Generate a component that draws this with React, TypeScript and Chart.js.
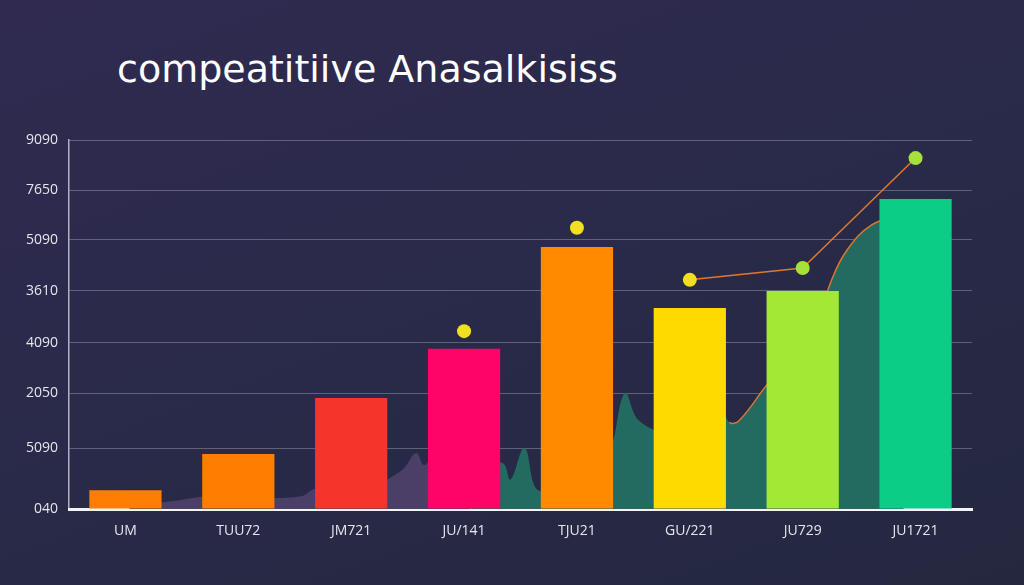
import React, { useEffect, useRef } from "react";
import { Chart, registerables } from "chart.js";

Chart.register(...registerables);

const titleText = "compeatitiive Anasalkisiss";
const categories = ["UM", "TUU72", "JM721", "JU/141", "TJU21", "GU/221", "JU729", "JU1721"];
const barValues = [5.1, 14.9, 30.1, 43.4, 71.0, 54.5, 59.1, 84.0];
const barColors = ["#ff7d00", "#ff7d00", "#f5352b", "#ff0468", "#ff8a00", "#ffda00", "#a2e834", "#0bcd86"];
const dotValues = [null, null, null, 48.2, 76.2, 62.1, 65.3, 95.1];
const dotColors = ["#f0e020", "#f0e020", "#f0e020", "#f0e020", "#f0e020", "#f0e020", "#a8e03a", "#a8e03a"];
const yTickValues = [0, 16.5, 31.4, 45.0, 59.1, 72.9, 86.4, 100];
const yTickLabels = ["040", "5090", "2050", "4090", "3610", "5090", "7650", "9090"];
const purpleAreaX = [0.1, 0.5, 0.82, 0.95, 1.1, 1.18, 1.5, 1.82, 1.95, 2.05, 2.18, 2.5, 2.82, 2.96, 3.04, 3.15, 3.3, 3.5];
const purpleAreaY = [1, 2, 3.3, 3.6, 3.1, 3.3, 3, 3.5, 5.4, 4.2, 4.1, 6, 10.6, 15.2, 11.9, 15.4, 14, 12];
const tealAreaX = [3.5, 3.82, 3.9, 4.04, 4.18, 4.5, 4.82, 4.9, 5.04, 5.18, 5.5, 5.82, 5.88, 5.98, 6.08, 6.18, 6.5, 6.82, 6.95, 7.1, 7.25, 7.5, 7.82];
const tealAreaY = [12, 12.5, 8, 16.5, 5, 10, 21, 17, 31.4, 24, 20, 19, 15.4, 29, 23.5, 24, 35, 43, 50, 62, 70, 77, 80];
const edgeStartIndex = 14;

export default function App() {
  const ref = useRef<HTMLCanvasElement | null>(null);
  useEffect(() => {
    if (!ref.current) return;
    const tickColor = "#e6e6ee";
    const tealPoints = tealAreaX.map((x, i) => ({ x, y: tealAreaY[i] }));
    const chart = new Chart(ref.current, {
      type: "bar",
      data: {
        labels: categories,
        datasets: [
          {
            type: "line",
            label: "line",
            data: dotValues,
            order: 1,
            borderWidth: 1.5,
            pointRadius: 7,
            pointBorderWidth: 0,
            pointBackgroundColor: dotColors,
            spanGaps: false,
            segment: {
              borderColor: (ctx: any) => (ctx.p0DataIndex >= 5 ? "#e0782c" : "rgba(0,0,0,0)"),
            },
          } as any,
          {
            type: "bar",
            label: "bars",
            data: barValues,
            order: 2,
            grouped: false,
            backgroundColor: barColors,
            categoryPercentage: 1,
            barPercentage: 0.64,
          } as any,
          {
            type: "line",
            label: "edge",
            xAxisID: "x2",
            data: tealPoints,
            order: 3,
            fill: false,
            borderColor: "#d8782e",
            borderWidth: 1.5,
            pointRadius: 0,
            tension: 0.4,
            segment: {
              borderColor: (ctx: any) => (ctx.p0DataIndex >= edgeStartIndex ? "#d8782e" : "rgba(0,0,0,0)"),
            },
          } as any,
          {
            type: "line",
            label: "teal",
            xAxisID: "x2",
            data: tealPoints,
            order: 4,
            fill: "origin",
            backgroundColor: "#236b60",
            borderWidth: 0,
            borderColor: "rgba(0,0,0,0)",
            pointRadius: 0,
            tension: 0.4,
          } as any,
          {
            type: "line",
            label: "purple",
            xAxisID: "x2",
            data: purpleAreaX.map((x, i) => ({ x, y: purpleAreaY[i] })),
            order: 5,
            fill: "origin",
            backgroundColor: "#4b3f68",
            borderWidth: 0,
            borderColor: "rgba(0,0,0,0)",
            pointRadius: 0,
            tension: 0.4,
          } as any,
        ],
      },
      options: {
        animation: false,
        responsive: false,
        maintainAspectRatio: false,
        layout: { padding: { top: 140, right: 52, bottom: 0, left: 0 } },
        plugins: { legend: { display: false }, title: { display: false }, tooltip: { enabled: false } },
        scales: {
          x: {
            type: "category",
            offset: true,
            grid: { display: false, drawTicks: false },
            border: { display: true, color: "#f4f4f8", width: 3 },
            ticks: { color: tickColor, font: { family: "Open Sans", size: 14 }, padding: 14, maxRotation: 0 },
            afterFit: (s: any) => { s.height = 76; },
          },
          x2: {
            type: "linear",
            min: 0,
            max: 8,
            display: false,
          },
          y: {
            type: "linear",
            min: 0,
            max: 100,
            grid: { color: "rgba(200,200,220,0.35)", lineWidth: 1, drawTicks: false },
            border: { display: true, color: "rgba(235,235,245,0.7)", width: 1.5 },
            afterBuildTicks: (s: any) => { s.ticks = yTickValues.map((v) => ({ value: v })); },
            ticks: {
              color: tickColor,
              font: { family: "Open Sans", size: 14 },
              padding: 11,
              callback: (_v: any, i: number) => yTickLabels[i],
            },
            afterFit: (s: any) => { s.width = 69; },
          },
        },
      },
    } as any);
    return () => chart.destroy();
  }, []);
  return (
    <div
      style={{
        position: "fixed",
        left: 0,
        top: 0,
        width: 1024,
        height: 585,
        background: "linear-gradient(160deg, #302a50 0%, #2a2a4a 45%, #24283f 100%)",
        overflow: "hidden",
      }}
    >
      <div
        style={{
          position: "absolute",
          left: 117,
          top: 50,
          fontFamily: "DejaVu Sans",
          fontSize: 38,
          lineHeight: "38px",
          color: "#ffffff",
          whiteSpace: "nowrap",
        }}
      >
        {titleText}
      </div>
      <canvas ref={ref} width={1024} height={585} style={{ position: "absolute", left: 0, top: 0 }} />
    </div>
  );
}
